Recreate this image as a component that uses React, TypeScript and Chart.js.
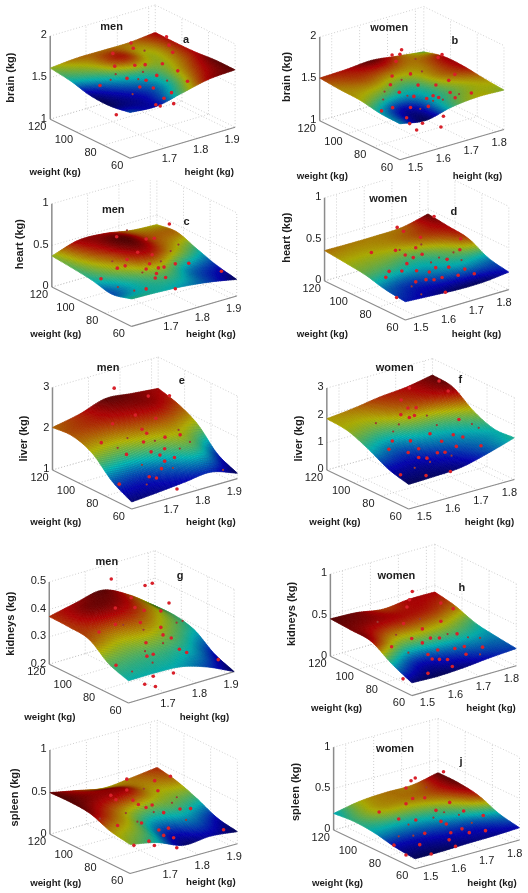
import React, { useEffect, useRef } from "react";
import { Chart, registerables } from "chart.js";
Chart.register(...registerables);

// ---- axis values ----
const weightTicks = [60, 80, 100, 120];
const heightTicksMen = [1.7, 1.8, 1.9];
const heightTicksWomen = [1.5, 1.6, 1.7, 1.8];
const weightRange = [60, 120];
const heightRangeMen = [1.586, 1.921];
const heightRangeWomen = [1.457, 1.83];
// Organ masses are read at one view, so a point's weight cannot be separated from its height: all sit at this weight.
const pointWeight = 84;

// ---- surfaces: rows weight 60..120, columns height low..high, kg ----
const brainMenSurface = [
  [1.55, 1.53, 1.6, 1.67, 1.69],
  [1.51, 1.53, 1.57, 1.64, 1.69],
  [1.52, 1.56, 1.59, 1.62, 1.67],
  [1.58, 1.61, 1.66, 1.62, 1.665],
  [1.615, 1.64, 1.64, 1.64, 1.67],
];
const brainWomenSurface = [
  [1.43, 1.38, 1.45, 1.48, 1.47],
  [1.44, 1.4, 1.44, 1.47, 1.49],
  [1.48, 1.46, 1.45, 1.49, 1.52],
  [1.49, 1.5, 1.49, 1.49, 1.52],
  [1.51, 1.52, 1.54, 1.5, 1.46],
];
const heartMenSurface = [
  [0.33, 0.32, 0.3, 0.26, 0.2],
  [0.27, 0.33, 0.36, 0.29, 0.25],
  [0.32, 0.39, 0.46, 0.4, 0.33],
  [0.35, 0.44, 0.5, 0.43, 0.415],
  [0.373, 0.47, 0.46, 0.405, 0.385],
];
const heartWomenSurface = [
  [0.22, 0.2, 0.18, 0.18, 0.21],
  [0.25, 0.23, 0.25, 0.27, 0.26],
  [0.31, 0.3, 0.29, 0.32, 0.38],
  [0.34, 0.34, 0.35, 0.38, 0.41],
  [0.365, 0.36, 0.36, 0.37, 0.44],
];
const liverMenSurface = [
  [1.17, 1.22, 1.28, 1.34, 1.13],
  [1.44, 1.4, 1.54, 1.74, 1.36],
  [1.88, 1.84, 1.94, 1.98, 1.84],
  [2.06, 2.12, 2.2, 2.24, 2.1],
  [2.03, 2.16, 2.36, 2.3, 2.24],
];
const liverWomenSurface = [
  [0.9, 0.93, 0.99, 1.23, 1.53],
  [1.11, 1.08, 1.2, 1.35, 1.5],
  [1.5, 1.35, 1.5, 1.59, 1.8],
  [1.8, 1.77, 1.95, 2.1, 2.31],
  [1.875, 1.98, 2.13, 2.22, 2.4],
];
const kidneysMenSurface = [
  [0.281, 0.281, 0.275, 0.245, 0.2],
  [0.308, 0.302, 0.302, 0.284, 0.23],
  [0.362, 0.344, 0.35, 0.32, 0.281],
  [0.371, 0.401, 0.392, 0.35, 0.299],
  [0.374, 0.395, 0.413, 0.368, 0.299],
];
const kidneysWomenSurface = [
  [0.155, 0.145, 0.16, 0.19, 0.21],
  [0.27, 0.2, 0.22, 0.24, 0.24],
  [0.42, 0.33, 0.33, 0.32, 0.28],
  [0.44, 0.42, 0.41, 0.4, 0.37],
  [0.455, 0.44, 0.39, 0.42, 0.42],
];
const spleenMenSurface = [
  [0.346, 0.28, 0.16, 0.18, 0.145],
  [0.39, 0.34, 0.22, 0.25, 0.19],
  [0.48, 0.4, 0.33, 0.33, 0.3],
  [0.5, 0.47, 0.46, 0.38, 0.39],
  [0.494, 0.43, 0.37, 0.4, 0.44],
];
const spleenWomenSurface = [
  [0.12, 0.12, 0.13, 0.135, 0.147],
  [0.147, 0.15, 0.16, 0.17, 0.2],
  [0.2, 0.2, 0.21, 0.24, 0.3],
  [0.22, 0.26, 0.27, 0.29, 0.34],
  [0.2, 0.26, 0.28, 0.28, 0.345],
];

// ---- subjects [height m, organ kg]: in front of the surface / seen through it ----
const brainMenFront = [[1.644,1.27],[1.804,2.03],[1.691,2.08],[1.698,2.01],[1.639,1.86],[1.703,1.8],[1.736,1.77],[1.791,1.72],[1.678,1.67],[1.592,1.68],[1.739,1.58],[1.762,1.46],[1.719,1.52],[1.773,1.6],[1.82,1.34],[1.796,1.3],[1.77,1.25],[1.784,1.22],[1.827,1.2],[1.871,1.42],[1.84,1.58],[1.824,1.82],[1.812,1.92],[1.633,2.02]];
const brainMenBehind = [[1.734,1.94],[1.626,1.71],[1.696,1.46],[1.729,1.69],[1.806,1.5],[1.642,1.76],[1.714,1.62]];
const brainWomenFront = [[1.578,2.01],[1.544,1.98],[1.572,1.96],[1.723,1.81],[1.709,1.79],[1.558,1.89],[1.544,1.73],[1.61,1.69],[1.538,1.63],[1.57,1.51],[1.637,1.53],[1.701,1.47],[1.747,1.48],[1.769,1.53],[1.828,1.25],[1.77,1.25],[1.752,1.33],[1.668,1.34],[1.691,1.35],[1.711,1.31],[1.674,1.24],[1.622,1.41],[1.546,1.35],[1.506,1.35],[1.596,1.18],[1.61,1.29],[1.728,1.07],[1.719,0.95],[1.632,1.0],[1.607,1.1],[1.653,1.06]];
const brainWomenBehind = [[1.517,1.57],[1.512,1.48],[1.599,1.44],[1.645,1.24],[1.578,1.65],[1.651,1.68],[1.784,1.28],[1.726,1.27],[1.691,1.29],[1.628,1.85]];
const heartMenFront = [[1.808,0.8],[1.64,0.83],[1.734,0.7],[1.76,0.68],[1.707,0.57],[1.673,0.52],[1.753,0.49],[1.667,0.45],[1.642,0.45],[1.59,0.38],[1.745,0.39],[1.734,0.34],[1.773,0.31],[1.827,0.3],[1.87,0.26],[1.791,0.3],[1.767,0.25],[1.796,0.17],[1.763,0.2],[1.827,0.0],[1.734,0.1],[1.974,0.05]];
const heartMenBehind = [[1.626,0.55],[1.696,0.12],[1.644,0.22],[1.837,0.52],[1.812,0.47],[1.781,0.38],[1.722,0.31],[1.673,0.87]];
const heartWomenFront = [[1.677,0.84],[1.544,0.84],[1.542,0.0],[1.718,-0.11],[1.567,0.77],[1.628,0.64],[1.451,0.63],[1.611,0.53],[1.538,0.57],[1.573,0.48],[1.634,0.43],[1.77,0.35],[1.773,0.48],[1.515,0.34],[1.503,0.28],[1.579,0.37],[1.614,0.25],[1.602,0.42],[1.724,0.28],[1.683,0.22],[1.66,0.19],[1.677,0.08],[1.648,0.11],[1.706,0.08],[1.73,0.18],[1.788,0.1],[1.822,0.01],[1.764,0.05],[1.611,0.12],[1.561,0.3]];
const heartWomenBehind = [[1.553,0.56],[1.596,0.08],[1.747,0.34],[1.695,0.33],[1.631,0.55],[1.666,0.3],[1.776,0.22],[1.631,-0.05]];
const liverMenFront = [[1.631,3.45],[1.739,3.02],[1.806,2.88],[1.59,2.22],[1.626,2.6],[1.698,2.65],[1.763,2.43],[1.719,2.26],[1.734,2.13],[1.724,1.94],[1.792,1.91],[1.84,1.86],[1.67,1.76],[1.748,1.65],[1.791,1.63],[1.776,1.51],[1.822,1.35],[1.791,1.33],[1.647,1.09],[1.742,1.06],[1.765,0.98],[1.83,0.57],[1.781,1.17]];
const liverMenBehind = [[1.642,1.98],[1.835,1.99],[1.871,1.62],[1.839,1.53],[1.976,0.71],[1.719,1.4],[1.76,1.89],[1.817,1.11],[1.734,0.89],[1.673,2.15]];
const liverWomenFront = [[1.575,3.52],[1.68,3.47],[1.712,3.01],[1.546,3.16],[1.57,2.8],[1.599,2.73],[1.545,2.63],[1.575,2.44],[1.593,2.46],[1.75,1.86],[1.515,1.75],[1.503,1.48],[1.648,1.63],[1.689,1.24],[1.579,1.57],[1.73,1.36],[1.828,0.67],[1.701,0.8],[1.674,0.86],[1.608,1.2],[1.571,1.17],[1.608,0.88],[1.637,0.77],[1.72,0.04],[1.544,0.43],[1.741,0.9],[1.634,0.14],[1.764,1.18]];
const liverWomenBehind = [[1.457,2.57],[1.518,2.09],[1.637,2.33],[1.594,0.54],[1.796,1.56],[1.82,1.35],[1.672,1.88],[1.724,0.61],[1.538,2.29],[1.648,0.6]];
const kidneysMenFront = [[1.632,0.58],[1.739,0.52],[1.762,0.52],[1.815,0.43],[1.695,0.49],[1.645,0.47],[1.707,0.45],[1.736,0.43],[1.789,0.41],[1.645,0.41],[1.593,0.4],[1.724,0.39],[1.789,0.35],[1.796,0.32],[1.742,0.31],[1.822,0.3],[1.848,0.25],[1.871,0.23],[1.765,0.26],[1.745,0.26],[1.971,0.17],[1.647,0.26],[1.829,0.17],[1.738,0.16],[1.772,0.14],[1.765,0.18]];
const kidneysMenBehind = [[1.67,0.4],[1.734,0.36],[1.839,0.35],[1.858,0.35],[1.698,0.22],[1.763,0.23],[1.796,0.29],[1.739,0.28]];
const kidneysWomenFront = [[1.575,0.96],[1.556,0.79],[1.565,0.87],[1.677,0.72],[1.721,0.61],[1.544,0.6],[1.677,0.5],[1.611,0.47],[1.501,0.36],[1.573,0.39],[1.64,0.33],[1.672,0.3],[1.735,0.29],[1.826,0.04],[1.761,0.11],[1.727,0.12],[1.666,0.16],[1.631,0.14],[1.646,0.07],[1.672,0.04],[1.701,0.01],[1.718,-0.09],[1.631,-0.09],[1.542,-0.07],[1.611,0.3],[1.767,0.01]];
const kidneysWomenBehind = [[1.451,0.71],[1.517,0.49],[1.561,0.23],[1.602,0.6],[1.817,0.16],[1.774,0.21],[1.817,-0.04],[1.701,0.32]];
const spleenMenFront = [[1.676,0.84],[1.763,0.73],[1.676,0.71],[1.773,0.6],[1.626,0.7],[1.642,0.63],[1.695,0.57],[1.736,0.44],[1.712,0.5],[1.755,0.45],[1.791,0.32],[1.842,0.31],[1.875,0.28],[1.647,0.32],[1.722,0.27],[1.698,0.03],[1.832,-0.14],[1.762,-0.04],[1.978,-0.08],[1.776,0.13],[1.791,0.05],[1.822,-0.01],[1.745,0.03],[1.806,0.12],[1.812,0.73]];
const spleenMenBehind = [[1.729,0.67],[1.673,0.44],[1.592,0.46],[1.709,0.3],[1.76,0.36],[1.861,0.16],[1.817,0.41],[1.832,0.46]];
const spleenWomenFront = [[1.675,0.78],[1.559,0.78],[1.574,0.8],[1.541,0.71],[1.565,0.56],[1.608,0.53],[1.541,0.52],[1.445,0.51],[1.515,0.36],[1.576,0.29],[1.648,0.34],[1.747,0.24],[1.697,0.39],[1.817,0.12],[1.741,0.03],[1.825,-0.07],[1.767,-0.04],[1.701,0.02],[1.666,0.19],[1.608,0.1],[1.685,0.14],[1.498,0.06],[1.541,-0.1],[1.631,-0.17],[1.718,-0.16],[1.59,-0.02],[1.695,-0.06]];
const spleenWomenBehind = [[1.55,0.26],[1.567,0.11],[1.515,0.15],[1.639,0.26],[1.73,0.21],[1.776,0.07],[1.677,0.29],[1.614,0.65]];

const zTicksBrain = ["1", "1.5", "2"];
const zTicksUnit = ["0", "0.5", "1"];
const zTicksLiverMen = ["1", "2", "3"];
const zTicksLiverWomen = ["0", "1", "2", "3"];
const zTicksKidneysMen = ["0.2", "0.3", "0.4", "0.5"];

// ---- panel layout, in units of 1/3 px of the panel's own frame ----
type P = [number, number];
type Panel = {
  left: number; top: number; L: P; F: P; R: P; H: number;
  zTicks: string[]; heights: number[]; hRange: number[];
  surface: number[][]; front: number[][]; behind: number[][];
  yLabel: string; yPos: P; title?: string; titlePos?: P; letter?: string; letterPos?: P;
  wPos: P; hPos: P;
};
const men = { heights: heightTicksMen, hRange: heightRangeMen };
const women = { heights: heightTicksWomen, hRange: heightRangeWomen };
const panels: Panel[] = [
  { left: 0, top: 0, L: [143, 360], F: [390, 482], R: [715, 385], H: 260, zTicks: zTicksBrain, ...men, surface: brainMenSurface, front: brainMenFront, behind: brainMenBehind, yLabel: "brain (kg)", yPos: [22, 230], title: "men", titlePos: [333, 72], letter: "a", letterPos: [563, 113], wPos: [158, 527], hPos: [635, 527] },
  { left: 264, top: 0, L: [160, 365], F: [408, 487], R: [730, 392], H: 262, zTicks: zTicksBrain, ...women, surface: brainWomenSurface, front: brainWomenFront, behind: brainWomenBehind, yLabel: "brain (kg)", yPos: [58, 228], title: "women", titlePos: [375, 75], letter: "b", letterPos: [578, 115], wPos: [168, 537], hPos: [648, 537] },
  { left: 0, top: 180, L: [148, 322], F: [395, 445], R: [720, 350], H: 260, zTicks: zTicksUnit, ...men, surface: heartMenSurface, front: heartMenFront, behind: heartMenBehind, yLabel: "heart (kg)", yPos: [50, 188], title: "men", titlePos: [338, 80], letter: "c", letterPos: [565, 120], wPos: [160, 470], hPos: [640, 470] },
  { left: 264, top: 180, L: [175, 303], F: [425, 425], R: [745, 330], H: 260, zTicks: zTicksUnit, ...women, surface: heartWomenSurface, front: heartWomenFront, behind: heartWomenBehind, yLabel: "heart (kg)", yPos: [58, 168], title: "women", titlePos: [372, 47], letter: "d", letterPos: [575, 88], wPos: [168, 470], hPos: [645, 470] },
  { left: 0, top: 345, L: [150, 378], F: [395, 500], R: [722, 405], H: 258, zTicks: zTicksLiverMen, ...men, surface: liverMenSurface, front: liverMenFront, behind: liverMenBehind, yLabel: "liver (kg)", yPos: [62, 280], title: "men", titlePos: [322, 58], letter: "e", letterPos: [550, 100], wPos: [160, 542], hPos: [640, 542] },
  { left: 264, top: 345, L: [182, 378], F: [435, 500], R: [762, 408], H: 256, zTicks: zTicksLiverWomen, ...women, surface: liverWomenSurface, front: liverWomenFront, behind: liverWomenBehind, yLabel: "liver (kg)", yPos: [97, 280], title: "women", titlePos: [392, 58], letter: "f", letterPos: [595, 98], wPos: [207, 542], hPos: [685, 542] },
  { left: 0, top: 530, L: [140, 407], F: [385, 528], R: [712, 430], H: 257, zTicks: zTicksKidneysMen, ...men, surface: kidneysMenSurface, front: kidneysMenFront, behind: kidneysMenBehind, yLabel: "kidneys (kg)", yPos: [22, 280], title: "men", titlePos: [318, 87], letter: "g", letterPos: [545, 130], wPos: [142, 573], hPos: [620, 573] },
  { left: 264, top: 530, L: [193, 382], F: [445, 505], R: [768, 412], H: 257, zTicks: zTicksUnit, ...women, surface: kidneysWomenSurface, front: kidneysWomenFront, behind: kidneysWomenBehind, yLabel: "kidneys (kg)", yPos: [75, 250], title: "women", titlePos: [397, 130], letter: "h", letterPos: [600, 170], wPos: [212, 545], hPos: [690, 545] },
  { left: 0, top: 715, L: [142, 360], F: [390, 483], R: [722, 390], H: 263, zTicks: zTicksUnit, ...men, surface: spleenMenSurface, front: spleenMenFront, behind: spleenMenBehind, yLabel: "spleen (kg)", yPos: [35, 245], wPos: [160, 512], hPos: [640, 510] },
  { left: 264, top: 715, L: [203, 347], F: [455, 468], R: [778, 378], H: 259, zTicks: zTicksUnit, ...women, surface: spleenWomenSurface, front: spleenWomenFront, behind: spleenWomenBehind, yLabel: "spleen (kg)", yPos: [87, 228], title: "women", titlePos: [393, 93], letter: "j", letterPos: [597, 135], wPos: [215, 512], hPos: [693, 512] },
];

const CW = 264, CH = 200;
const MESH = 64;
const FONT = '"Liberation Sans", Arial, sans-serif';

function frame(p: Panel) {
  return (u: number, v: number, t: number): P => [
    p.F[0] + u * (p.R[0] - p.F[0]) + v * (p.L[0] - p.F[0]),
    p.F[1] + u * (p.R[1] - p.F[1]) + v * (p.L[1] - p.F[1]) - t * p.H,
  ];
}
function project(p: Panel, height: number, weight: number, z: number): P {
  const zMin = parseFloat(p.zTicks[0]);
  const zMax = parseFloat(p.zTicks[p.zTicks.length - 1]);
  return frame(p)(
    (height - p.hRange[0]) / (p.hRange[1] - p.hRange[0]),
    (weight - weightRange[0]) / (weightRange[1] - weightRange[0]),
    (z - zMin) / (zMax - zMin),
  );
}
function catmull(a: number, b: number, c: number, d: number, s: number) {
  return 0.5 * (2 * b + (c - a) * s + (2 * a - 5 * b + 4 * c - d) * s * s + (3 * b - a - 3 * c + d) * s * s * s);
}
function sampleRow(r: number[], x: number) {
  const n = r.length - 1;
  const i = Math.min(Math.floor(x * n), n - 1);
  const s = x * n - i;
  const at = (k: number) => (k < 0 ? 2 * r[0] - r[1] : k > n ? 2 * r[n] - r[n - 1] : r[k]);
  return catmull(at(i - 1), at(i), at(i + 1), at(i + 2), s);
}
function sampleGrid(g: number[][], u: number, v: number) {
  return sampleRow(g.map((r) => sampleRow(r, u)), v);
}
function jet(f: number, k: number) {
  const c = (x: number) => Math.round(255 * k * Math.max(0, Math.min(1, 1.5 - Math.abs(x))));
  return `rgb(${c(4 * f - 3)},${c(4 * f - 2)},${c(4 * f - 1)})`;
}

const panelPlugin = {
  id: "panel3d",
  beforeDatasetsDraw(chart: any, _a: any, opts: any) {
    const p: Panel = opts.panel;
    const ctx: CanvasRenderingContext2D = chart.ctx;
    const sx = (x: number) => chart.scales.x.getPixelForValue(x);
    const sy = (y: number) => chart.scales.y.getPixelForValue(y);
    const f = frame(p);
    const zMin = parseFloat(p.zTicks[0]);
    const zMax = parseFloat(p.zTicks[p.zTicks.length - 1]);
    const seg = (a: P, b: P) => {
      ctx.beginPath();
      ctx.moveTo(sx(a[0]), sy(a[1]));
      ctx.lineTo(sx(b[0]), sy(b[1]));
      ctx.stroke();
    };
    const hU = (h: number) => (h - p.hRange[0]) / (p.hRange[1] - p.hRange[0]);
    const wV = (w: number) => (w - weightRange[0]) / (weightRange[1] - weightRange[0]);

    ctx.save();
    // dotted box grid
    ctx.strokeStyle = "#c4c4c4";
    ctx.lineWidth = 0.8;
    ctx.setLineDash([1, 2]);
    p.heights.forEach((h) => {
      const u = hU(h);
      seg(f(u, 0, 0), f(u, 1, 0));
      seg(f(u, 1, 0), f(u, 1, 1));
    });
    weightTicks.forEach((w) => {
      const v = wV(w);
      seg(f(0, v, 0), f(1, v, 0));
      seg(f(1, v, 0), f(1, v, 1));
    });
    p.zTicks.forEach((s) => {
      const t = (parseFloat(s) - zMin) / (zMax - zMin);
      seg(f(0, 1, t), f(1, 1, t));
      seg(f(1, 1, t), f(1, 0, t));
    });
    ctx.setLineDash([]);
    // solid axes
    ctx.strokeStyle = "#8c8c8c";
    ctx.lineWidth = 1.1;
    seg(f(0, 1, 0), f(0, 0, 0));
    seg(f(0, 0, 0), f(1, 0, 0));
    ctx.lineWidth = 1.5;
    seg(f(0, 1, 0), f(0, 1, 1));

    // surface
    const vals: number[][] = [];
    let lo = Infinity, hi = -Infinity;
    for (let j = 0; j <= MESH; j++) {
      const row: number[] = [];
      for (let i = 0; i <= MESH; i++) {
        const z = sampleGrid(p.surface, i / MESH, j / MESH);
        row.push(z);
        if (z < lo) lo = z;
        if (z > hi) hi = z;
      }
      vals.push(row);
    }
    const pt = (i: number, j: number): P => {
      const a = f(i / MESH, j / MESH, (vals[j][i] - zMin) / (zMax - zMin));
      return [sx(a[0]), sy(a[1])];
    };
    ctx.lineWidth = 0.6;
    for (let j = MESH - 1; j >= 0; j--) {
      for (let i = MESH - 1; i >= 0; i--) {
        const z = (vals[j][i] + vals[j][i + 1] + vals[j + 1][i] + vals[j + 1][i + 1]) / 4;
        const col = jet((z - lo) / (hi - lo), 0.72);
        const a = pt(i, j), b = pt(i + 1, j), c = pt(i + 1, j + 1), d = pt(i, j + 1);
        ctx.fillStyle = col;
        ctx.strokeStyle = col;
        ctx.beginPath();
        ctx.moveTo(a[0], a[1]);
        ctx.lineTo(b[0], b[1]);
        ctx.lineTo(c[0], c[1]);
        ctx.lineTo(d[0], d[1]);
        ctx.closePath();
        ctx.fill();
        ctx.stroke();
      }
    }
    // mesh lines
    ctx.strokeStyle = "rgba(0,0,0,0.2)";
    ctx.lineWidth = 0.5;
    for (let j = 0; j <= MESH; j += 1) {
      ctx.beginPath();
      for (let i = 0; i <= MESH; i++) {
        const a = pt(i, j);
        if (i === 0) ctx.moveTo(a[0], a[1]);
        else ctx.lineTo(a[0], a[1]);
      }
      ctx.stroke();
    }

    // text
    ctx.fillStyle = "#1c1c1c";
    ctx.textBaseline = "middle";
    const put = (s: string, pos: P, font: string, align: CanvasTextAlign = "center") => {
      ctx.font = font;
      ctx.textAlign = align;
      ctx.fillText(s, sx(pos[0]), sy(pos[1]));
    };
    const tickFont = `11px ${FONT}`;
    p.zTicks.forEach((s) => {
      const t = (parseFloat(s) - zMin) / (zMax - zMin);
      const a = f(0, 1, t);
      put(s, [a[0] - 10, a[1] - 2], tickFont, "right");
    });
    weightTicks.forEach((w) => {
      const a = f(0, wV(w), 0);
      put(String(w), [a[0] - 40, a[1] + 24], tickFont);
    });
    p.heights.forEach((h) => {
      const a = f(hU(h), 0, 0);
      put(h.toFixed(1), [a[0] + 11, a[1] + 35], tickFont);
    });
    put("weight (kg)", p.wPos, `bold 9.7px ${FONT}`);
    put("height (kg)", p.hPos, `bold 9.7px ${FONT}`);
    if (p.title && p.titlePos) put(p.title, p.titlePos, `bold 11px ${FONT}`);
    if (p.letter && p.letterPos) put(p.letter, p.letterPos, `bold 11px ${FONT}`);
    ctx.translate(sx(p.yPos[0]), sy(p.yPos[1]));
    ctx.rotate(-Math.PI / 2);
    ctx.font = `bold 11px ${FONT}`;
    ctx.textAlign = "center";
    ctx.fillText(p.yLabel, 0, 0);
    ctx.restore();
  },
};

function PanelChart({ panel }: { panel: Panel }) {
  const ref = useRef<HTMLCanvasElement>(null);
  useEffect(() => {
    const toXY = (r: number[]) => {
      const a = project(panel, r[0], pointWeight, r[1]);
      return { x: a[0], y: a[1] };
    };
    const chart = new Chart(ref.current as HTMLCanvasElement, {
      type: "scatter",
      data: {
        datasets: [
          { label: "seen through the surface", data: panel.behind.map(toXY), backgroundColor: "#9c3a34", pointRadius: 1.1, borderWidth: 0 },
          { label: "subjects", data: panel.front.map(toXY), backgroundColor: "#d8202a", pointRadius: 1.8, borderWidth: 0 },
        ],
      },
      options: {
        responsive: false,
        animation: false,
        layout: { padding: 0 },
        scales: {
          x: { type: "linear", min: 0, max: CW * 3, display: false },
          y: { type: "linear", min: 0, max: CH * 3, reverse: true, display: false },
        },
        plugins: { legend: { display: false }, tooltip: { enabled: false }, panel3d: { panel } } as any,
      },
      plugins: [panelPlugin],
    });
    return () => chart.destroy();
  }, [panel]);
  return (
    <canvas
      ref={ref}
      width={CW}
      height={CH}
      style={{ position: "absolute", left: panel.left, top: panel.top, width: CW, height: CH, display: "block" }}
    />
  );
}

export default function App() {
  return (
    <div style={{ position: "fixed", left: 0, top: 0, width: 528, height: 893, overflow: "hidden", background: "#fff" }}>
      {panels.map((p, i) => (
        <PanelChart key={i} panel={p} />
      ))}
    </div>
  );
}
